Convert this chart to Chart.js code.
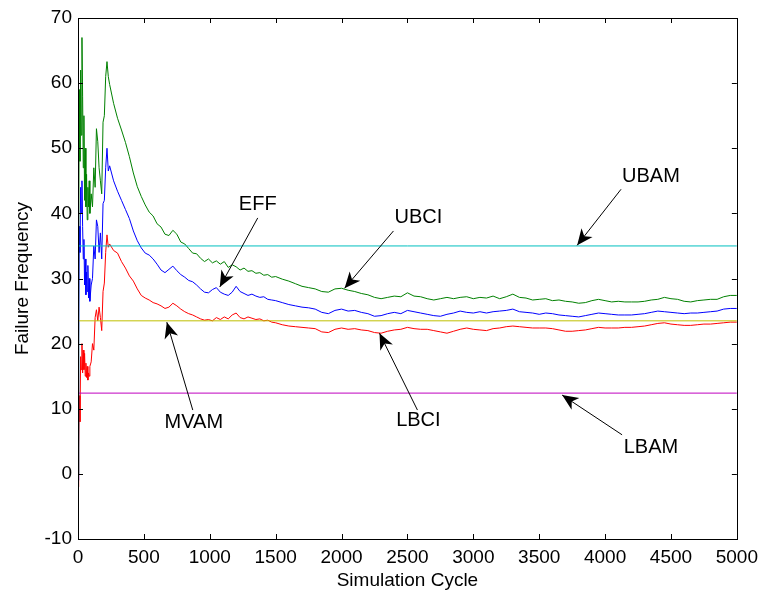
<!DOCTYPE html>
<html>
<head>
<meta charset="utf-8">
<script src="https://cdn.jsdelivr.net/npm/chart.js@4.4.1/dist/chart.umd.min.js"></script>
<style>
html, body { margin: 0; padding: 0; background: #fff; }
</style>
</head>
<body>
<canvas id="freqChart" width="765" height="596"></canvas>
<script>
// simulation cycles (x) shared by the three curves
const cycles = [0, 5, 10, 15, 20, 25, 30, 35, 40, 45, 50, 55, 60, 65, 70, 75, 80, 85, 90,
  100, 110, 120, 130, 140, 150, 160, 170, 180, 190, 200, 210, 220, 230,
  240, 270, 300, 330, 360, 390, 420, 450, 480, 510, 540, 570, 600, 630, 660, 690, 720, 750, 780, 810,
  840, 870, 900, 930, 960, 990, 1020, 1050, 1080, 1110, 1140, 1170, 1200, 1230, 1260, 1290, 1320, 1350, 1380, 1410,
  1440, 1470, 1500,
  1550, 1600, 1650, 1700, 1750, 1800, 1850, 1900, 1950, 2000, 2050, 2100, 2150, 2200, 2250, 2300, 2350, 2400, 2450, 2500,
  2550, 2600, 2650, 2700, 2750, 2800, 2850, 2900, 2950, 3000, 3050, 3100, 3150, 3200, 3250, 3300, 3350, 3400, 3450, 3500,
  3550, 3600, 3650, 3700, 3750, 3800, 3850, 3900, 3950, 4000, 4050, 4100, 4150, 4200, 4250, 4300, 4350, 4400, 4450, 4500,
  4550, 4600, 4650, 4700, 4750, 4800, 4850, 4900, 4950, 5000];

// upper bound of confidence interval (green)
const ubci = [0, 35, 59, 48, 62, 52, 67, 58, 47, 55, 42, 50, 41, 46, 39, 44, 41, 45, 40,
  43, 41, 47, 44, 53, 51, 47, 45, 43, 54, 55, 61, 63.3, 61,
  59.8, 56.9, 54.6, 52.8, 50.9, 48.7, 46.2, 44.1, 42.6, 41.3, 40.2, 39.6, 38.4, 37.9, 36.8, 36.6, 37.4, 36.8, 35.6, 35.3,
  34.6, 33.9, 33.8, 33.1, 32.6, 33.0, 32.4, 32.7, 32.2, 32.6, 31.7, 32.1, 31.8, 31.3, 31.6, 31.1, 31.2, 30.8, 30.9, 30.5,
  30.6, 30.2, 30.3,
  29.9, 29.6, 29.2, 28.8, 28.6, 28.4, 28.0, 27.9, 28.4, 28.5, 28.2, 28.0, 27.7, 27.5, 27.1, 26.9, 27.1, 27.3, 27.2, 27.8,
  27.3, 27.2, 26.9, 26.7, 26.9, 27.1, 26.9, 27.1, 27.2, 26.9, 27.1, 27.0, 27.3, 26.9, 27.2, 27.6, 27.1, 27.0, 26.7, 26.8,
  26.9, 26.6, 26.7, 26.5, 26.4, 26.2, 26.3, 26.6, 26.8, 26.6, 26.4, 26.5, 26.4, 26.4, 26.4, 26.5, 26.7, 26.8, 27.1, 26.9,
  26.8, 26.5, 26.4, 26.6, 26.7, 26.8, 26.8, 27.2, 27.4, 27.4];

// efficiency estimate (blue)
const eff = [-1, 20, 38, 34, 44, 40, 45, 38, 33, 36, 29, 33, 27.5, 31, 28, 32, 27, 30, 26.5,
  29, 30, 35, 33, 39, 38, 34, 37, 33, 41.5, 42, 47, 50, 46.5,
  47.3, 45.0, 43.4, 42.0, 40.6, 39.2, 37.3, 35.8, 34.7, 33.9, 33.6, 33.0, 32.2, 31.3, 30.9, 31.4, 31.9, 31.2, 30.6, 30.2,
  29.7, 29.5, 29.0, 28.4, 27.9, 27.8, 28.3, 28.6, 27.9, 27.6, 27.4, 27.9, 28.8, 28.0, 27.7, 27.4, 27.6, 27.3, 27.1, 27.2,
  26.8, 26.7, 26.6,
  26.3, 26.0, 25.8, 25.6, 25.5, 25.3, 24.8, 24.6, 25.1, 25.3, 25.0, 25.1, 24.8, 24.6, 24.2, 24.3, 24.6, 24.8, 24.6, 25.1,
  24.9, 24.7, 24.5, 24.3, 24.2, 24.5, 24.7, 25.0, 24.8, 24.7, 24.9, 24.7, 24.9, 25.0, 25.1, 25.3, 24.9, 24.8, 24.7, 24.5,
  24.7, 24.6, 24.4, 24.3, 24.2, 24.1, 24.3, 24.5, 24.7, 24.6, 24.5, 24.4, 24.4, 24.4, 24.5, 24.6, 24.8, 25.0, 24.9, 24.8,
  24.7, 24.6, 24.7, 24.7, 24.8, 24.9, 25.0, 25.3, 25.4, 25.4];

// lower bound of confidence interval (red)
const lbci = [-2, 4, 12, 8, 18, 16, 20, 15.5, 19, 16, 18.5, 15, 17, 14.8, 16.5, 14.4, 15.5, 15, 16.5,
  17.2, 20, 19, 24, 25.2, 23.5, 25.6, 24, 22, 28, 29.3, 34, 36.7, 34.8,
  35.3, 34.3, 33.9, 32.6, 31.6, 30.4, 29.6, 28.4, 27.4, 27.0, 26.7, 26.3, 26.1, 25.8, 25.4, 25.6, 26.2, 25.8, 25.3, 24.9,
  24.6, 24.4, 24.1, 23.8, 23.6, 23.7, 23.5, 24.0, 23.7, 24.1, 23.8, 24.4, 24.7, 24.0, 23.8, 24.1, 23.9, 23.7, 23.8, 23.5,
  23.6, 23.3, 23.2,
  22.9, 22.7, 22.6, 22.5, 22.4, 22.3, 21.8, 21.7, 22.2, 22.4, 22.2, 22.3, 22.1, 22.0, 21.7, 21.6, 21.9, 22.1, 22.2, 22.5,
  22.3, 22.2, 22.2, 22.0, 21.8, 21.6, 21.9, 22.2, 22.4, 22.2, 22.1, 22.0, 22.3, 22.4, 22.6, 22.7, 22.6, 22.5, 22.4, 22.4,
  22.4, 22.3, 22.1, 21.9, 21.9, 22.0, 22.1, 22.3, 22.5, 22.4, 22.4, 22.4, 22.5, 22.5, 22.6, 22.7, 22.9, 23.1, 23.2, 23.0,
  22.9, 22.8, 22.8, 22.9, 23.0, 23.0, 23.1, 23.2, 23.3, 23.3];

// constant reference levels
const ubamLevel = 35;
const mvamLevel = 23.5;
const lbamLevel = 12.4;
const levelSpan = [0, 5000];

// text notes with arrows, in data coordinates
const notes = [
  { text: 'EFF',  at: [1364, 41.3], from: [1364, 39.3], to: [1076, 28.7] },
  { text: 'UBCI', at: [2583, 39.4], from: [2394, 37.3], to: [2023, 28.5] },
  { text: 'UBAM', at: [4348, 45.7], from: [4121, 43.7], to: [3788, 35.1] },
  { text: 'MVAM', at: [879, 7.9],   from: [871, 9.8],   to: [674, 23.3] },
  { text: 'LBCI', at: [2583, 8.25], from: [2576, 9.8],  to: [2288, 21.6] },
  { text: 'LBAM', at: [4348, 4.0],  from: [4129, 6.0],  to: [3674, 12.1] }
];

const FONT = "'Liberation Sans', Arial, Helvetica, sans-serif";

function toPoints(xs, ys) {
  return xs.map((x, i) => ({ x: x, y: ys[i] }));
}

function levelLine(value) {
  return levelSpan.map(x => ({ x: x, y: value }));
}

function drawArrow(ctx, x1, y1, x2, y2) {
  ctx.beginPath();
  ctx.moveTo(x1, y1);
  ctx.lineTo(x2, y2);
  ctx.stroke();
  let ang = Math.atan2(y2 - y1, x2 - x1);
  let len = 16, half = 7;
  let bx = x2 - Math.cos(ang) * len, by = y2 - Math.sin(ang) * len;
  let nx = x2 - Math.cos(ang) * len * 0.72, ny = y2 - Math.sin(ang) * len * 0.72;
  ctx.beginPath();
  ctx.moveTo(x2, y2);
  ctx.lineTo(bx - Math.sin(ang) * half, by + Math.cos(ang) * half);
  ctx.lineTo(nx, ny);
  ctx.lineTo(bx + Math.sin(ang) * half, by - Math.cos(ang) * half);
  ctx.closePath();
  ctx.fill();
}

// box, inward ticks and arrow notes
const frameAndNotes = {
  id: 'frameAndNotes',
  afterDatasetsDraw(chart) {
    const ctx = chart.ctx;
    const area = chart.chartArea;
    const xs = chart.scales.x, ys = chart.scales.y;
    ctx.save();
    ctx.strokeStyle = '#000';
    ctx.lineWidth = 1;
    ctx.strokeRect(Math.round(area.left) + 0.5, Math.round(area.top) + 0.5,
      Math.round(area.right - area.left), Math.round(area.bottom - area.top));
    let tl = 5;
    ctx.beginPath();
    xs.ticks.forEach(t => {
      let px = Math.round(xs.getPixelForValue(t.value)) + 0.5;
      ctx.moveTo(px, area.bottom); ctx.lineTo(px, area.bottom - tl);
      ctx.moveTo(px, area.top); ctx.lineTo(px, area.top + tl);
    });
    ys.ticks.forEach(t => {
      let py = Math.round(ys.getPixelForValue(t.value)) + 0.5;
      ctx.moveTo(area.left, py); ctx.lineTo(area.left + tl, py);
      ctx.moveTo(area.right, py); ctx.lineTo(area.right - tl, py);
    });
    ctx.stroke();

    ctx.fillStyle = '#000';
    ctx.font = '20px ' + FONT;
    ctx.textAlign = 'center';
    ctx.textBaseline = 'middle';
    notes.forEach(n => {
      ctx.fillText(n.text, xs.getPixelForValue(n.at[0]), ys.getPixelForValue(n.at[1]));
      drawArrow(ctx,
        xs.getPixelForValue(n.from[0]), ys.getPixelForValue(n.from[1]),
        xs.getPixelForValue(n.to[0]), ys.getPixelForValue(n.to[1]));
    });
    ctx.restore();
  }
};

const lineStyle = { borderWidth: 1, pointRadius: 0, fill: false, tension: 0 };

let chart = new Chart(document.getElementById('freqChart'), {
  type: 'line',
  data: {
    datasets: [
      Object.assign({ label: 'UBAM', data: levelLine(ubamLevel), borderColor: 'rgb(0,191,191)' }, lineStyle),
      Object.assign({ label: 'MVAM', data: levelLine(mvamLevel), borderColor: 'rgb(191,191,0)' }, lineStyle),
      Object.assign({ label: 'LBAM', data: levelLine(lbamLevel), borderColor: 'rgb(191,0,191)' }, lineStyle),
      Object.assign({ label: 'UBCI', data: toPoints(cycles, ubci), borderColor: 'rgb(0,128,0)' }, lineStyle),
      Object.assign({ label: 'EFF',  data: toPoints(cycles, eff),  borderColor: 'rgb(0,0,255)' }, lineStyle),
      Object.assign({ label: 'LBCI', data: toPoints(cycles, lbci), borderColor: 'rgb(255,0,0)' }, lineStyle)
    ]
  },
  options: {
    responsive: false,
    animation: false,
    layout: { padding: { top: 18, right: 27, bottom: 0, left: 0 } },
    plugins: { legend: { display: false }, tooltip: { enabled: false } },
    scales: {
      x: {
        type: 'linear',
        min: 0,
        max: 5000,
        grid: { display: false, drawTicks: false },
        border: { display: false },
        ticks: { stepSize: 500, color: '#000', padding: 7, maxRotation: 0, callback: v => String(v), font: { family: FONT, size: 19 } },
        title: { display: true, text: 'Simulation Cycle', color: '#000', padding: { top: 0, bottom: 4 }, font: { family: FONT, size: 19 } },
        afterFit: s => { s.height = 57; }
      },
      y: {
        type: 'linear',
        min: -10,
        max: 70,
        grid: { display: false, drawTicks: false },
        border: { display: false },
        ticks: { stepSize: 10, color: '#000', padding: 6, callback: v => String(v), font: { family: FONT, size: 19 } },
        title: { display: true, text: 'Failure Frequency', color: '#000', padding: { top: 11, bottom: 0 }, font: { family: FONT, size: 19 } },
        afterFit: s => { s.width = 78; }
      }
    }
  },
  plugins: [frameAndNotes]
});
</script>
</body>
</html>
